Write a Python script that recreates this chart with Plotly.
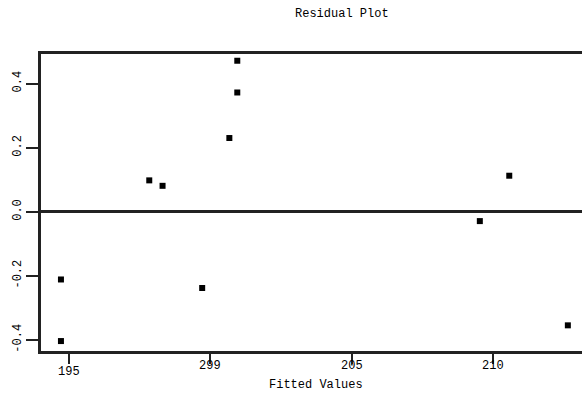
import plotly.graph_objects as go

# Data
fitted = [194.72, 194.72, 197.84, 198.31, 199.71, 200.67, 200.95, 200.95, 209.52, 210.56, 212.63]
residuals = [-0.211, -0.403, 0.098, 0.081, -0.2375, 0.230, 0.471, 0.372, -0.029, 0.1125, -0.354]

x_tick_vals = [195, 200, 205, 210]
x_tick_text = ["195", "299", "205", "210"]
x_tick_label_px = [21, 15, 15, 15]   # label centre offset below the axis line (style)

y_tick_vals = [-0.4, -0.2, 0.0, 0.2, 0.4]
y_tick_text = ["-0.4", "-0.2", "0.0", "0.2", "0.4"]

FONT = "Liberation Mono, Courier New, monospace"
INK = "#222222"

fig = go.Figure()
fig.add_trace(go.Scatter(
    x=fitted, y=residuals, mode="markers",
    marker=dict(symbol="square", size=6, color="black", line=dict(width=0)),
    showlegend=False, hoverinfo="skip",
))

for v, t, off in zip(x_tick_vals, x_tick_text, x_tick_label_px):
    fig.add_annotation(x=v, xref="x", y=0, yref="paper", text=t, showarrow=False,
                       yanchor="middle", yshift=-off,
                       font=dict(family=FONT, size=12, color="black"))

fig.add_annotation(x=0.508, xref="paper", y=0, yref="paper", text="Fitted Values",
                   showarrow=False, yanchor="middle", yshift=-34,
                   font=dict(family=FONT, size=12, color="black"))
fig.add_annotation(x=0.556, xref="paper", y=1, yref="paper", text="Residual Plot",
                   showarrow=False, yanchor="middle", yshift=40,
                   font=dict(family=FONT, size=12, color="black"))

fig.update_layout(
    width=582, height=393,
    margin=dict(l=41, r=0, t=54, b=42, pad=0),
    paper_bgcolor="white", plot_bgcolor="white",
    font=dict(family=FONT, size=12, color="black"),
    xaxis=dict(range=[194.015, 213.13], showgrid=False, zeroline=False,
               showline=True, mirror=True, linecolor=INK, linewidth=2.5,
               tickmode="array", tickvals=x_tick_vals, ticktext=x_tick_text,
               showticklabels=False,
               ticks="outside", ticklen=10, tickwidth=2, tickcolor=INK),
    yaxis=dict(range=[-0.434, 0.492], showgrid=False,
               zeroline=True, zerolinecolor=INK, zerolinewidth=2.5,
               showline=True, mirror=False, linecolor=INK, linewidth=2.5,
               tickmode="array", tickvals=y_tick_vals, ticktext=y_tick_text,
               tickangle=-90, ticks="outside", ticklen=12, tickwidth=2, tickcolor=INK,
               tickfont=dict(family=FONT, size=12, color="black")),
)

fig.write_html("out.html", config={"displayModeBar": False},
               post_script="document.body.style.margin='0';document.body.style.overflow='hidden';")
